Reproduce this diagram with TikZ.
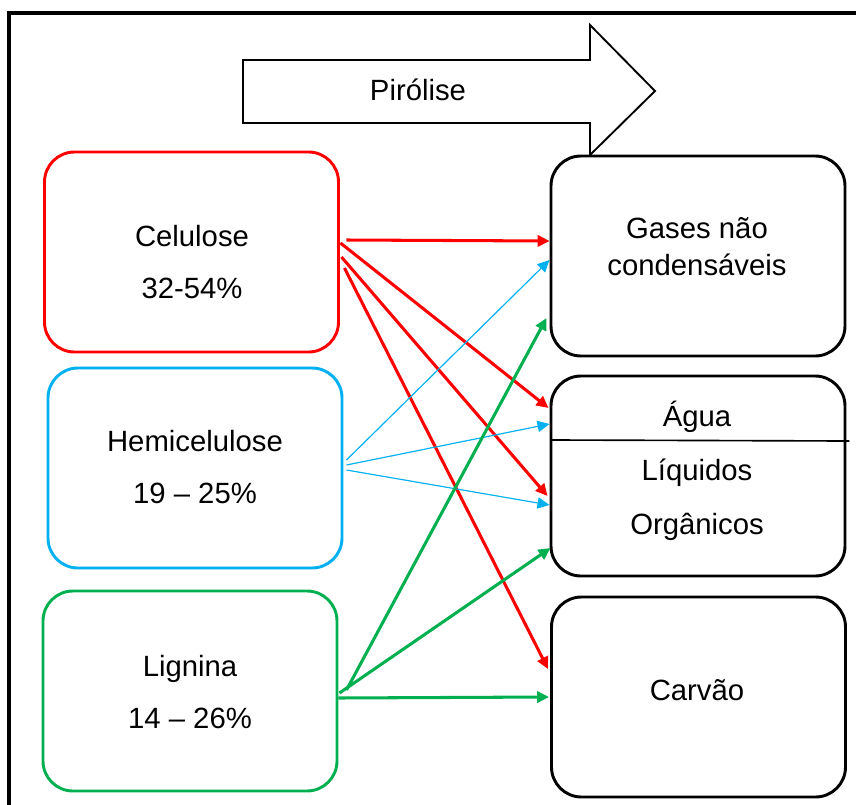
\documentclass[tikz,border=0pt]{standalone}
\usepackage{fontspec}
\setmainfont{Liberation Sans}
\usetikzlibrary{arrows.meta,calc}

\definecolor{celred}{HTML}{FF0000}
\definecolor{hemiblue}{HTML}{00B0F0}
\definecolor{liggreen}{HTML}{00B050}

\begin{document}
\begin{tikzpicture}[x=0.03cm, y=-0.03cm, >={Triangle[length=0.36cm, width=0.34cm]},
    box/.style={draw, rounded corners=0.9cm, line width=2.5pt, minimum width=8.82cm,
        minimum height=6cm},
    txt/.style={align=center, font=\fontsize{25}{45}\selectfont},
    flow/.style={->, line width=2.6pt}]
    \useasboundingbox (0,0) rectangle (856,805);

    % moldura
    \draw[line width=3.4pt] (870,13) -- (9,13) -- (9,820);

    % seta da pirolise
    \draw[line width=1.6pt, line join=miter] (243,60) -- (590,60) -- (590,25) -- (655,91)
        -- (590,155) -- (590,123) -- (243,123) -- cycle;
    \node[font=\fontsize{25}{28}\selectfont] (pir) at (418,90) {Pirólise};

    % componentes da biomassa
    \node[box, draw=celred] (cel) at (191.5,252) {};
    \node[box, draw=hemiblue] (hemi) at (195,468) {};
    \node[box, draw=liggreen] (lig) at (190,691) {};
    \node[txt] (celtxt) at (192,262) {Celulose\\32-54\%};
    \node[txt] (hemitxt) at (195,467) {Hemicelulose\\19 – 25\%};
    \node[txt] (ligtxt) at (190,692) {Lignina\\14 – 26\%};

    % produtos
    \node[box] (gas) at (698,256) {};
    \node[box] (liq) at (698,476) {};
    \node[box] (carv) at (698.5,697) {};
    \node[txt, font=\fontsize{25}{31.5}\selectfont] (gastxt) at (697,247) {Gases não\\condensáveis};
    \node[txt, font=\fontsize{25}{46}\selectfont] (liqtxt) at (697,471) {Água\\Líquidos\\Orgânicos};
    \node[txt] (carvtxt) at (697,690) {Carvão};
    \draw[line width=1.4pt] ($(liq.west)+(1,-36)$) -- ($(liq.east)+(3,-35)$);

    % celulose
    \draw[flow, celred] ($(cel.east)+(6.5,-12)$) -- ($(gas.west)+(0,-15)$);
    \draw[flow, celred] ($(cel.east)+(0.5,-9)$) -- ($(liq.west)+(-1,-68)$);
    \draw[flow, celred] ($(cel.east)+(1.5,5)$) -- ($(liq.west)+(-2,20)$);
    \draw[flow, celred] ($(cel.east)+(4.5,16)$) -- ($(carv.west)+(-2,-28)$);

    % hemicelulose
    \draw[->, hemiblue, line width=1pt] ($(hemi.east)+(3,-8)$) -- ($(gas.west)+(0,4)$);
    \draw[->, hemiblue, line width=1pt] ($(hemi.east)+(3,-3)$) -- ($(liq.west)+(0,-52)$);
    \draw[->, hemiblue, line width=1pt] ($(hemi.east)+(3,2)$) -- ($(liq.west)+(0,29)$);

    % lignina
    \draw[flow, liggreen] ($(lig.east)+(8,-1)$) -- ($(gas.west)+(-3,62)$);
    \draw[flow, liggreen] ($(lig.east)+(1,2)$) -- ($(liq.west)+(1,72)$);
    \draw[flow, liggreen] ($(lig.east)+(0,7)$) -- ($(carv.west)+(-1,0)$);
\end{tikzpicture}
\end{document}
